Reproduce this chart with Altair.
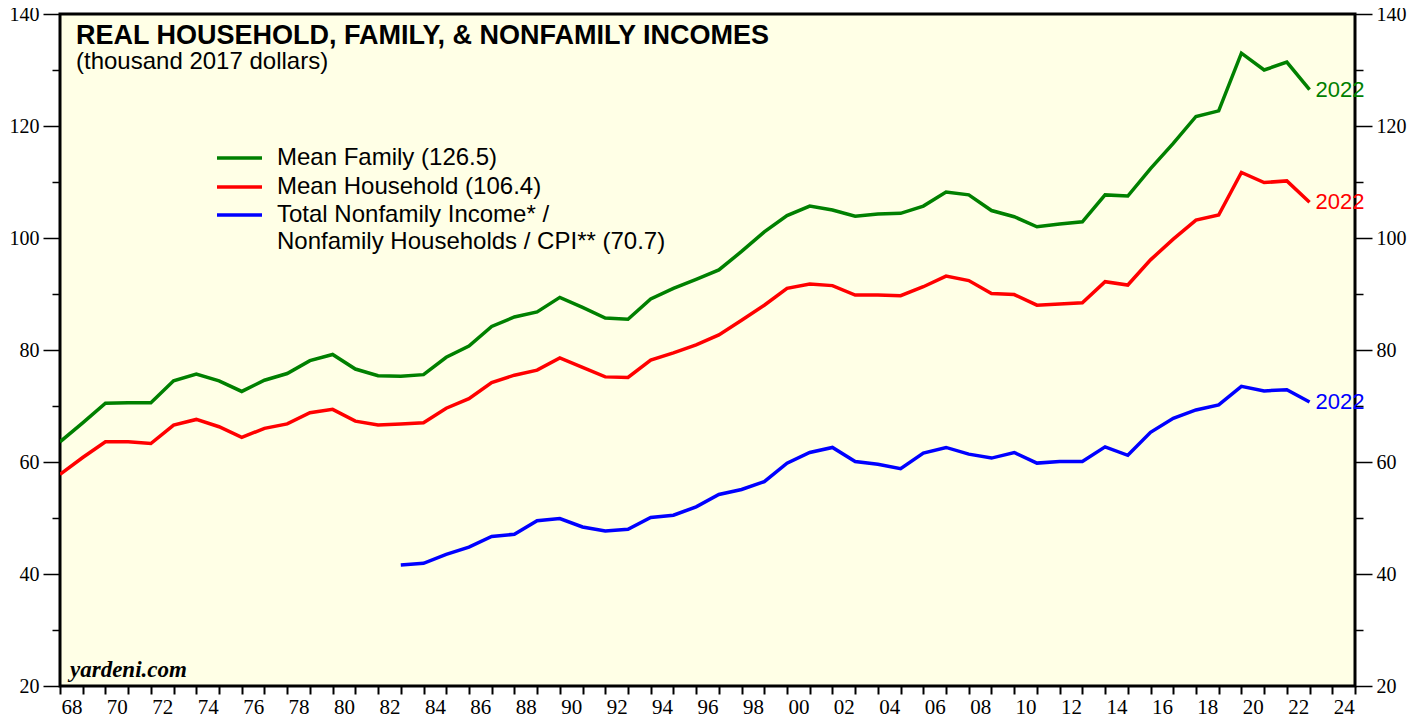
import altair as alt
import pandas as pd

# ---------------- data ----------------
years = list(range(1967, 2023))
mean_family = [63.6, 67.0, 70.5, 70.6, 70.6, 74.5, 75.7, 74.5, 72.6, 74.6,
               75.8, 78.1, 79.2, 76.6, 75.4, 75.3, 75.6, 78.7, 80.7, 84.2,
               85.9, 86.8, 89.4, 87.6, 85.7, 85.5, 89.1, 91.0, 92.6, 94.3,
               97.6, 101.1, 104.0, 105.7, 105.0, 103.9, 104.3, 104.4, 105.7, 108.2,
               107.7, 104.9, 103.8, 102.0, 102.5, 102.9, 107.7, 107.5, 112.4, 116.9,
               121.7, 122.7, 133.0, 130.0, 131.4, 126.5]
mean_household = [57.8, 60.8, 63.6, 63.6, 63.3, 66.6, 67.6, 66.3, 64.4, 66.0,
                  66.8, 68.8, 69.4, 67.3, 66.6, 66.8, 67.0, 69.6, 71.3, 74.2,
                  75.5, 76.4, 78.6, 76.9, 75.2, 75.1, 78.2, 79.5, 80.9, 82.7,
                  85.3, 88.0, 91.0, 91.8, 91.5, 89.8, 89.8, 89.7, 91.3, 93.2,
                  92.4, 90.1, 89.9, 88.0, 88.2, 88.45, 92.2, 91.6, 96.1, 99.8,
                  103.2, 104.1, 111.7, 109.9, 110.2, 106.4]
nonfamily_years = list(range(1982, 2023))
nonfamily = [41.6, 41.9, 43.5, 44.8, 46.7, 47.1, 49.5, 49.9, 48.4, 47.7,
             48.0, 50.1, 50.5, 52.0, 54.2, 55.1, 56.5, 59.8, 61.7, 62.6,
             60.1, 59.6, 58.8, 61.6, 62.6, 61.4, 60.7, 61.7, 59.8, 60.1,
             60.1, 62.7, 61.2, 65.3, 67.8, 69.3, 70.2, 73.5, 72.7, 72.9, 70.7]

series_names = ["Mean Family", "Mean Household", "Nonfamily"]
series_colors = ["#008000", "#FF0000", "#0000FF"]
legend_labels = ["Mean Family (126.5)", "Mean Household (106.4)",
                 "Total Nonfamily Income* /"]
legend_label_extra = "Nonfamily Households / CPI** (70.7)"
end_label = "2022"
x_ticks = list(range(1967, 2025))
y_ticks = list(range(20, 141, 10))

# ---------------- tables ----------------
rows = []
for y, v in zip(years, mean_family):
    rows.append({"series": series_names[0], "year": y, "value": v})
for y, v in zip(years, mean_household):
    rows.append({"series": series_names[1], "year": y, "value": v})
for y, v in zip(nonfamily_years, nonfamily):
    rows.append({"series": series_names[2], "year": y, "value": v})
df = pd.DataFrame(rows)

df_end = pd.DataFrame({
    "series": series_names,
    "year": [years[-1], years[-1], nonfamily_years[-1]],
    "value": [mean_family[-1], mean_household[-1], nonfamily[-1]],
    "label": [end_label] * 3,
})

W, H = 1295, 672
xscale = alt.Scale(domain=[1967, 2024], nice=False, zero=False)
yscale = alt.Scale(domain=[20, 140], nice=False, zero=False)
cscale = alt.Scale(domain=series_names, range=series_colors)

SERIF = "Liberation Serif"
SANS = "Liberation Sans"

x_axis = alt.Axis(
    orient="bottom", values=x_ticks, title=None, grid=False, domain=False,
    tickSize=8, tickWidth=2, tickColor="black",
    labelExpr="(datum.value % 2 === 1 && datum.value < 2024) ? substring('' + (datum.value + 1), 2) : ''",
    labelOffset=11.4, labelOverlap=False, labelFlush=False, labelBound=False,
    labelFont=SERIF, labelFontSize=21, labelColor="black", labelPadding=2,
)

def y_axis(orient):
    return alt.Axis(
        orient=orient, values=y_ticks, title=None, grid=False, domain=False,
        tickSize={"condition": {"test": "datum.value % 20 === 0", "value": 17}, "value": 8},
        tickWidth=1.5, tickColor="black",
        labelExpr="datum.value % 20 === 0 ? datum.value : ''",
        labelOverlap=False, labelFlush=False, labelBound=False,
        labelFont=SERIF, labelFontSize=20, labelColor="black", labelPadding=4,
    )

lines = alt.Chart(df).mark_line(strokeWidth=3.5, strokeJoin="miter", clip=True).encode(
    x=alt.X("year:Q", scale=xscale, axis=x_axis),
    y=alt.Y("value:Q", scale=yscale, axis=y_axis("left")),
    color=alt.Color("series:N", scale=cscale, legend=None),
    detail="series:N",
)

ends = alt.Chart(df_end).mark_text(
    align="left", baseline="middle", dx=6, font=SANS, fontSize=22
).encode(
    x=alt.X("year:Q", scale=xscale, axis=x_axis),
    y=alt.Y("value:Q", scale=yscale, axis=y_axis("right")),
    text="label:N",
    color=alt.Color("series:N", scale=cscale, legend=None),
)

one = pd.DataFrame({"k": [0]})

title = alt.Chart(one).mark_text(
    align="left", baseline="alphabetic", font=SANS, fontSize=27, fontWeight="bold", color="black"
).encode(x=alt.value(16), y=alt.value(30), text=alt.value("REAL HOUSEHOLD, FAMILY, & NONFAMILY INCOMES"))

subtitle = alt.Chart(one).mark_text(
    align="left", baseline="alphabetic", font=SANS, fontSize=24, color="black"
).encode(x=alt.value(16), y=alt.value(55), text=alt.value("(thousand 2017 dollars)"))

yardeni = alt.Chart(one).mark_text(
    align="left", baseline="alphabetic", font=SERIF, fontSize=23, fontWeight="bold",
    fontStyle="italic", color="black"
).encode(x=alt.value(10), y=alt.value(663), text=alt.value("yardeni.com"))

legend_layers = []
leg_y = [144, 173, 201]
for i in range(3):
    legend_layers.append(
        alt.Chart(one).mark_rule(strokeWidth=3.5).encode(
            x=alt.value(157), x2=alt.value(202), y=alt.value(leg_y[i]),
            color=alt.value(series_colors[i]))
    )
    legend_layers.append(
        alt.Chart(one).mark_text(align="left", baseline="middle", font=SANS, fontSize=24, color="black").encode(
            x=alt.value(217), y=alt.value(leg_y[i]), text=alt.value(legend_labels[i]))
    )
legend_layers.append(
    alt.Chart(one).mark_text(align="left", baseline="middle", font=SANS, fontSize=24, color="black").encode(
        x=alt.value(217), y=alt.value(leg_y[2] + 27), text=alt.value(legend_label_extra))
)

chart = alt.layer(lines, ends, title, subtitle, yardeni, *legend_layers).resolve_axis(
    y="independent"
).properties(
    width=W, height=H,
    autosize=alt.AutoSizeParams(type="none"),
    padding={"left": 52, "top": 6, "right": 60, "bottom": 31},
    background="white",
).configure_view(
    fill="#FFFFE6", stroke="black", strokeWidth=3
)

chart.save("out.html", embed_options={"renderer": "svg", "actions": False})
